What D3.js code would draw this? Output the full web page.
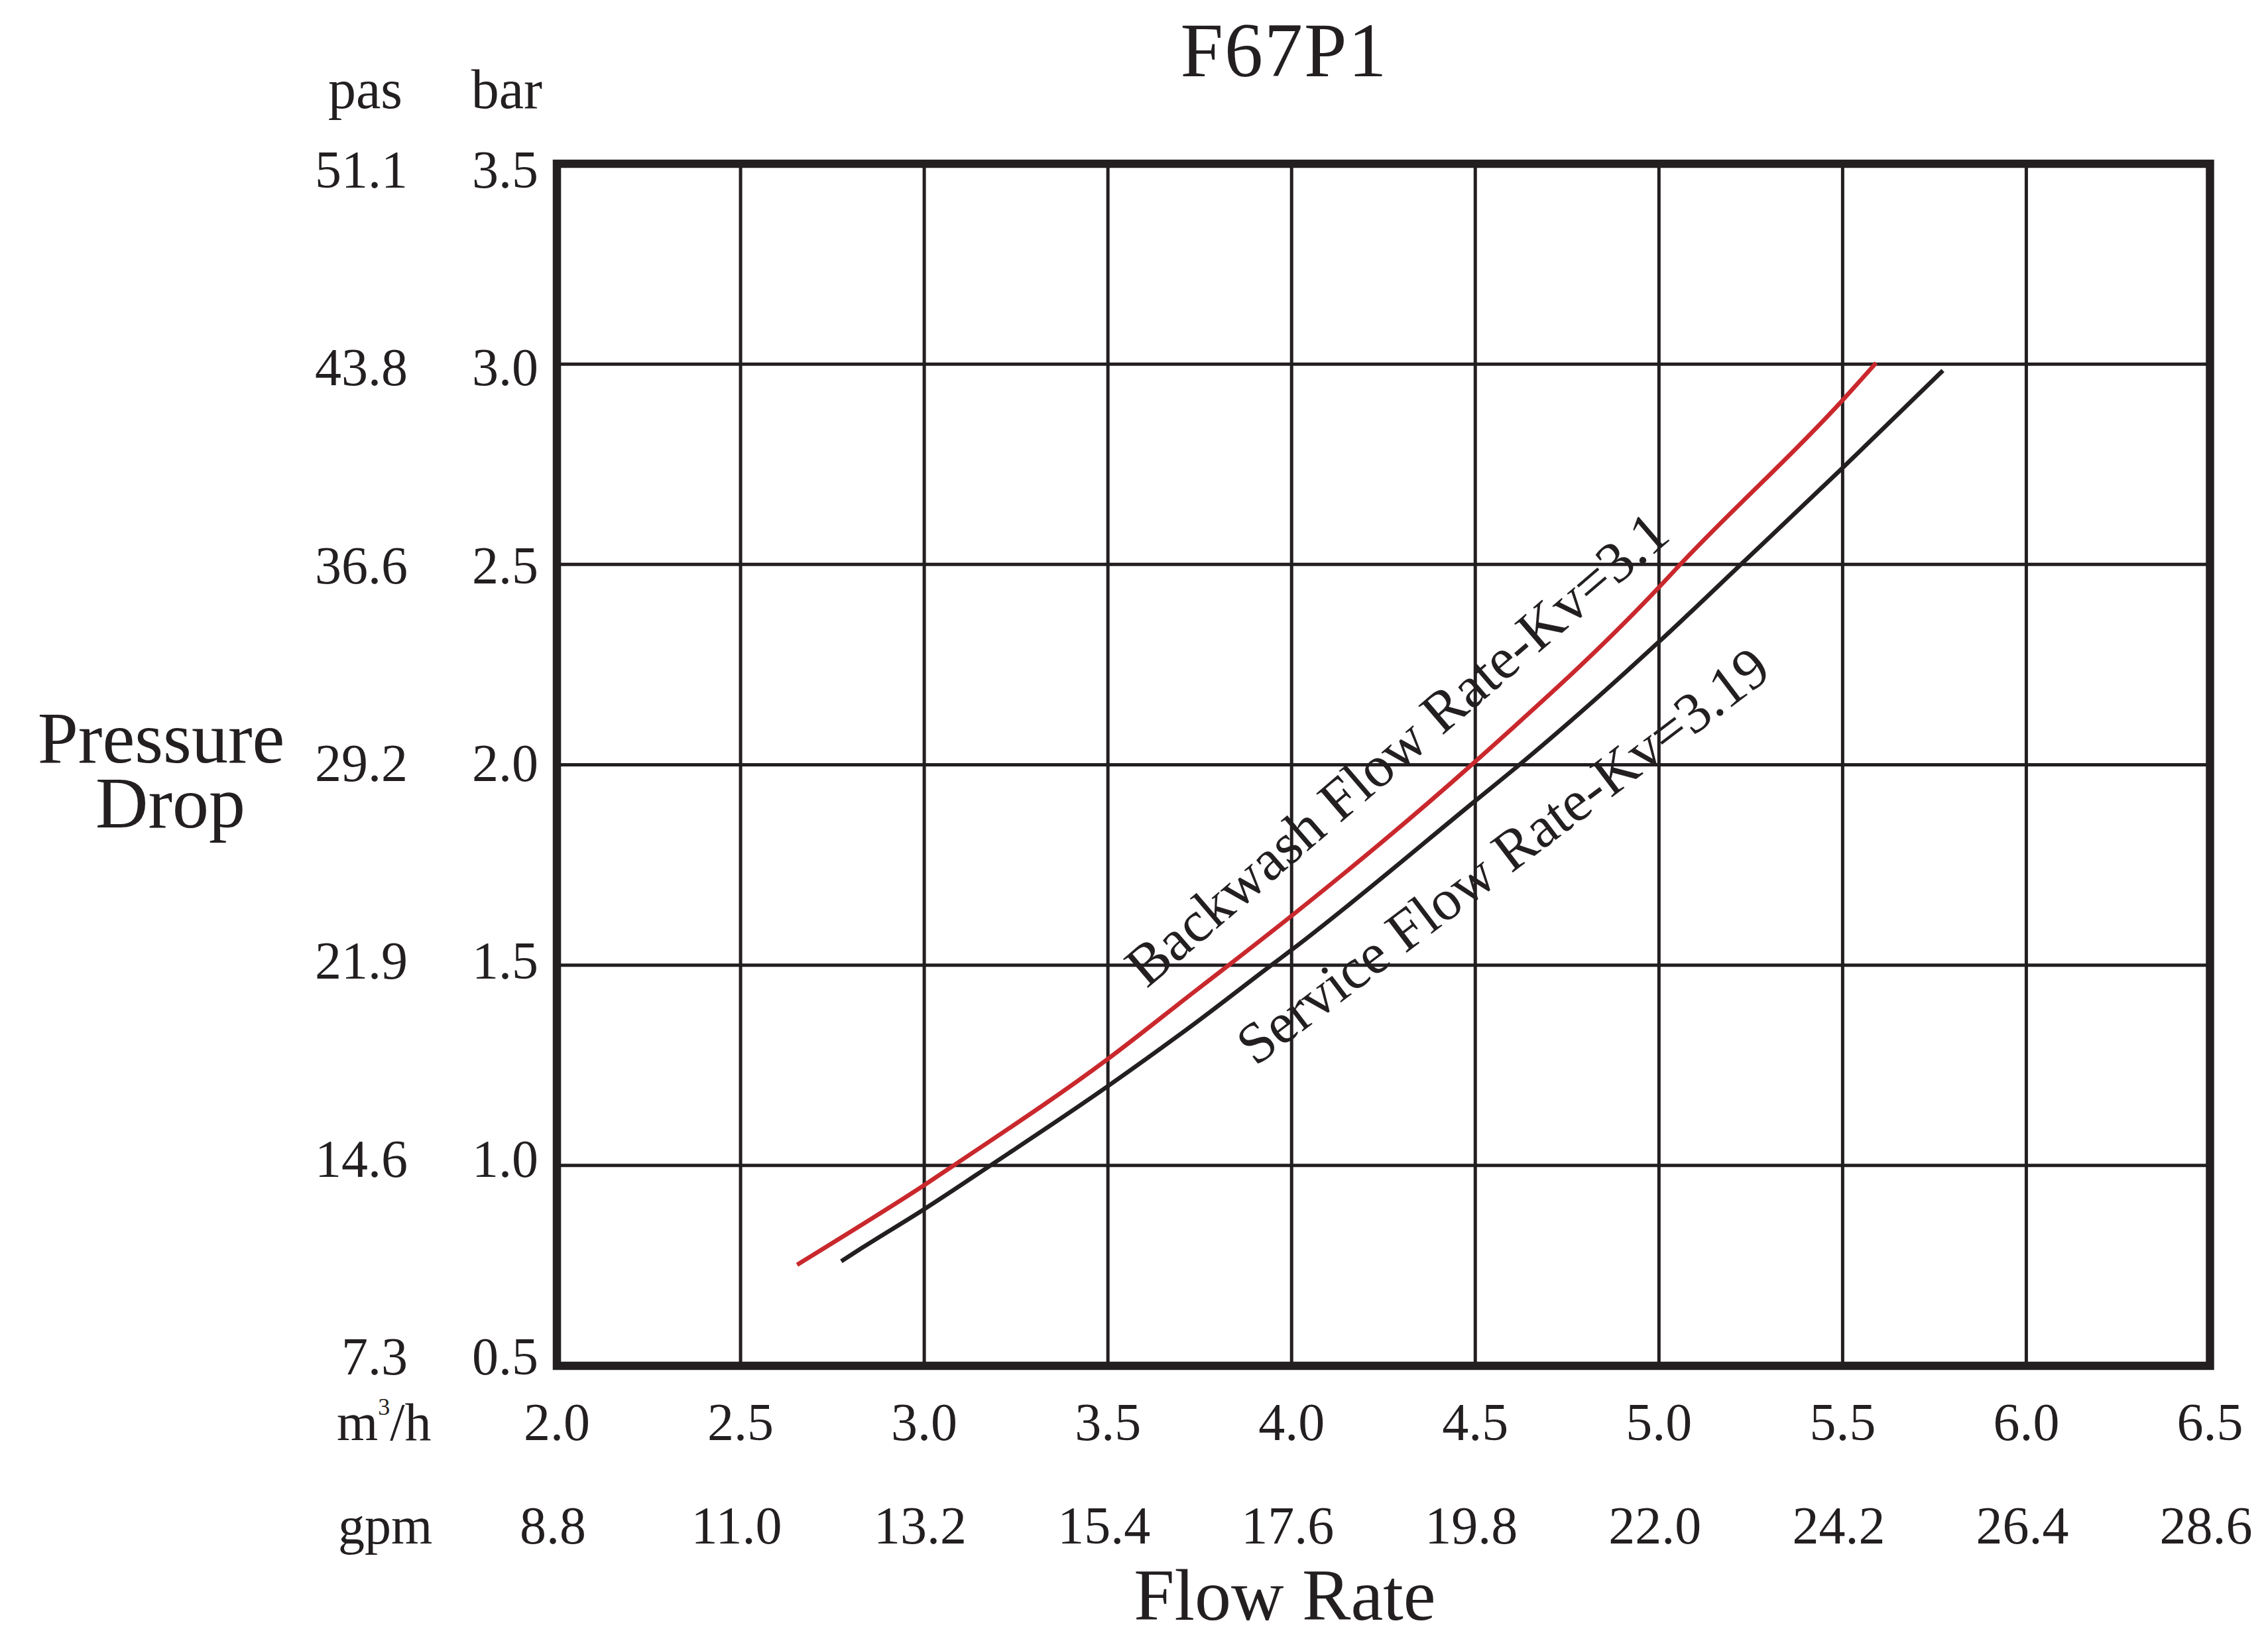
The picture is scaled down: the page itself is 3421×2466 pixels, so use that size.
<!DOCTYPE html>
<html>
<head>
<meta charset="utf-8">
<script src="https://cdn.jsdelivr.net/npm/d3@7"></script>
<style>
  html, body { margin: 0; padding: 0; background: #ffffff; }
  svg { display: block; }
</style>
</head>
<body>
<script>
// ---------- DATA ----------
const title = "F67P1";
const flowTicksM3h = [2.0, 2.5, 3.0, 3.5, 4.0, 4.5, 5.0, 5.5, 6.0, 6.5];
const flowTicksGpm = ["8.8", "11.0", "13.2", "15.4", "17.6", "19.8", "22.0", "24.2", "26.4", "28.6"];
const barTicks = [0.5, 1.0, 1.5, 2.0, 2.5, 3.0, 3.5];
const pasTicks = ["7.3", "14.6", "21.9", "29.2", "36.6", "43.8", "51.1"];

// Backwash flow rate (red), Kv = 3.1   : flow (m3/h) -> pressure drop (bar)
const backwashFlow = [2.654, 2.830, 3.000, 3.080, 3.500, 3.733, 3.829, 4.000, 4.490, 5.000, 5.058, 5.500, 5.591];
const backwashBar  = [0.752, 0.852, 0.951, 1.000, 1.266, 1.432, 1.500, 1.623, 2.000, 2.443, 2.500, 2.910, 3.003];
// Service flow rate (black), Kv = 3.19
const serviceFlow = [2.774, 2.830, 3.000, 3.180, 3.500, 3.733, 3.945, 4.000, 4.500, 4.620, 5.000, 5.223, 5.500, 5.773];
const serviceBar  = [0.761, 0.794, 0.891, 1.000, 1.198, 1.352, 1.500, 1.538, 1.910, 2.000, 2.307, 2.500, 2.741, 2.984];

const backwashLabel = "Backwash Flow Rate-Kv=3.1";
const serviceLabel = "Service Flow Rate-Kv=3.19";

// ---------- LAYOUT ----------
const W = 3421, H = 2466;
const plotL = 840, plotR = 3333.5, plotT = 247, plotB = 2060;
const ink = "#231f20";
const red = "#c9282d";
const font = "'Liberation Serif', 'Times New Roman', serif";

const x = d3.scaleLinear().domain([2.0, 6.5]).range([plotL, plotR]);
const y = d3.scaleLinear().domain([0.5, 3.5]).range([plotB, plotT]);
// baseline positions for the y tick labels
const yLabel = d3.scaleLinear().domain([0.5, 3.5]).range([2073, 283]);

const svg = d3.select("body").append("svg")
  .attr("width", W).attr("height", H)
  .attr("viewBox", `0 0 ${W} ${H}`);

svg.append("rect").attr("width", W).attr("height", H).attr("fill", "#ffffff");

// ---------- GRID ----------
const grid = svg.append("g").attr("stroke", ink).attr("stroke-width", 5);
grid.selectAll("line.v").data(flowTicksM3h.slice(1, -1)).join("line")
  .attr("class", "v")
  .attr("x1", d => x(d)).attr("x2", d => x(d))
  .attr("y1", plotT).attr("y2", plotB);
grid.selectAll("line.h").data(barTicks.slice(1, -1)).join("line")
  .attr("class", "h")
  .attr("x1", plotL).attr("x2", plotR)
  .attr("y1", d => y(d)).attr("y2", d => y(d));

// ---------- CURVES ----------
const line = d3.line()
  .x(d => x(d[0])).y(d => y(d[1]))
  .curve(d3.curveMonotoneX);

svg.append("path")
  .datum(backwashFlow.map((q, i) => [q, backwashBar[i]]))
  .attr("d", line)
  .attr("fill", "none").attr("stroke", red).attr("stroke-width", 6.5);

svg.append("path")
  .datum(serviceFlow.map((q, i) => [q, serviceBar[i]]))
  .attr("d", line)
  .attr("fill", "none").attr("stroke", ink).attr("stroke-width", 6.5);

// ---------- FRAME ----------
svg.append("rect")
  .attr("x", plotL).attr("y", plotT)
  .attr("width", plotR - plotL).attr("height", plotB - plotT)
  .attr("fill", "none").attr("stroke", ink).attr("stroke-width", 12.5)
  .attr("stroke-linejoin", "miter");

// ---------- TEXT ----------
const txt = svg.append("g").attr("fill", ink).attr("font-family", font);

// title
txt.append("text").attr("x", 1937).attr("y", 115)
  .attr("text-anchor", "middle").attr("font-size", 116)
  .attr("letter-spacing", 2)
  .text(title);

// y-axis unit headers
txt.append("text").attr("x", 607).attr("y", 163)
  .attr("text-anchor", "end").attr("font-size", 84).text("pas");
txt.append("text").attr("x", 818).attr("y", 163)
  .attr("text-anchor", "end").attr("font-size", 84).text("bar");

// y tick labels
txt.selectAll("text.pas").data(barTicks).join("text")
  .attr("class", "pas")
  .attr("x", 615).attr("y", d => yLabel(d))
  .attr("text-anchor", "end").attr("font-size", 80)
  .text((d, i) => pasTicks[i]);
txt.selectAll("text.bar").data(barTicks).join("text")
  .attr("class", "bar")
  .attr("x", 812).attr("y", d => yLabel(d))
  .attr("text-anchor", "end").attr("font-size", 80)
  .text(d => d.toFixed(1));

// y-axis title
txt.append("text").attr("x", 243).attr("y", 1150)
  .attr("text-anchor", "middle").attr("font-size", 110).text("Pressure");
txt.append("text").attr("x", 257).attr("y", 1248)
  .attr("text-anchor", "middle").attr("font-size", 110).text("Drop");

// x-axis unit labels
const m3 = txt.append("text").attr("x", 508).attr("y", 2172).attr("font-size", 80);
m3.append("tspan").text("m");
m3.append("tspan").attr("font-size", 36).attr("dy", -38).text("3");
m3.append("tspan").attr("dy", 38).text("/h");
txt.append("text").attr("x", 510).attr("y", 2328).attr("font-size", 80).text("gpm");

// x tick labels
txt.selectAll("text.m3h").data(flowTicksM3h).join("text")
  .attr("class", "m3h")
  .attr("x", d => x(d)).attr("y", 2172)
  .attr("text-anchor", "middle").attr("font-size", 80)
  .text(d => d.toFixed(1));
txt.selectAll("text.gpm").data(flowTicksM3h).join("text")
  .attr("class", "gpm")
  .attr("x", d => x(d) - 6).attr("y", 2328)
  .attr("text-anchor", "middle").attr("font-size", 80)
  .text((d, i) => flowTicksGpm[i]);

// x-axis title
txt.append("text").attr("x", 1938).attr("y", 2443)
  .attr("text-anchor", "middle").attr("font-size", 110).text("Flow Rate");

// curve annotations
txt.append("text")
  .attr("transform", "translate(2107,1130) rotate(-40.6)")
  .attr("text-anchor", "middle").attr("dy", "0.33em")
  .attr("font-size", 88).text(backwashLabel);
txt.append("text")
  .attr("transform", "translate(2267,1291) rotate(-37.1)")
  .attr("text-anchor", "middle").attr("dy", "0.33em")
  .attr("font-size", 87).text(serviceLabel);
</script>
</body>
</html>
